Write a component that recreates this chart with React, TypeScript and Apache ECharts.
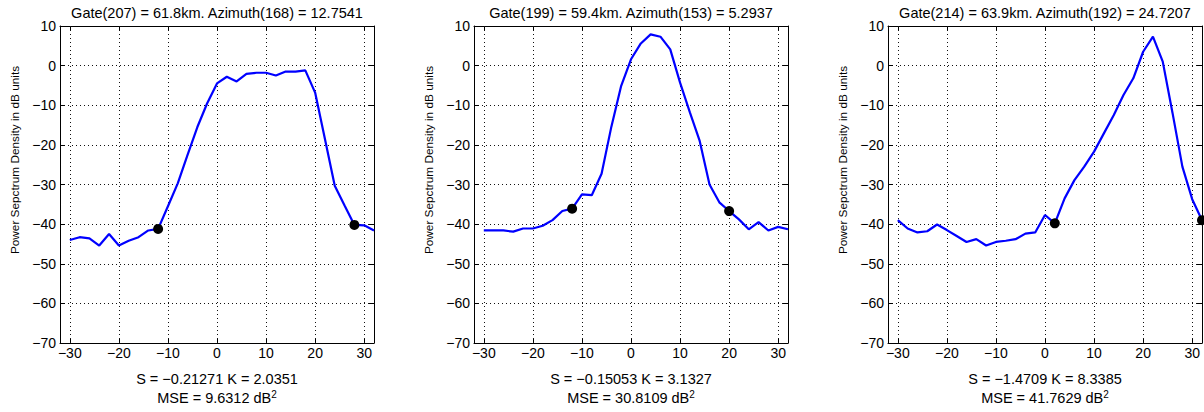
import React, { useEffect, useRef } from 'react';
import * as echarts from 'echarts';

const freqs = [-30, -28, -26, -24, -22, -20, -18, -16, -14, -12, -10, -8, -6, -4, -2, 0, 2, 4, 6, 8, 10, 12, 14, 16, 18, 20, 22, 24, 26, 28, 30, 32];

const psd1 = [-44.0, -43.3, -43.6, -45.4, -42.5, -45.4, -44.2, -43.3, -41.6, -41.2, -35.5, -29.7, -22.5, -15.5, -9.5, -4.5, -2.8, -4.0, -2.1, -1.8, -1.8, -2.5, -1.5, -1.5, -1.2, -6.8, -18.5, -30.3, -35.3, -40.2, -40.3, -41.6];
const psd2 = [-41.6, -41.6, -41.6, -41.9, -41.1, -41.1, -40.4, -39.0, -36.7, -36.1, -32.5, -32.7, -27.3, -15.4, -5.1, 1.6, 5.6, 7.9, 7.3, 4.1, -4.3, -11.8, -19.0, -30.0, -34.5, -36.7, -38.8, -41.3, -39.5, -41.6, -40.7, -41.3];
const psd3 = [-39.0, -41.1, -42.1, -41.8, -40.1, -41.5, -43.0, -44.5, -43.8, -45.4, -44.5, -44.2, -43.8, -42.4, -42.1, -37.7, -39.8, -33.5, -28.9, -25.5, -21.7, -17.1, -12.5, -7.4, -3.2, 3.5, 7.3, 1.0, -12.0, -25.5, -33.7, -39.0];

const markerFreqs1 = [-12, 28];
const markerFreqs2 = [-12, 20];
const markerFreqs3 = [2, 32];

const titles = [
  'Gate(207) = 61.8km. Azimuth(168) = 12.7541',
  'Gate(199) = 59.4km. Azimuth(153) = 5.2937',
  'Gate(214) = 63.9km. Azimuth(192) = 24.7207',
];
const statsLines = [
  'S = \u22120.21271 K = 2.0351',
  'S = \u22120.15053 K = 3.1327',
  'S = \u22121.4709 K = 8.3385',
];
const mseValues = ['9.6312', '30.8109', '41.7629'];

const xTicks = [-30, -20, -10, 0, 10, 20, 30];
const yLabel = 'Power Sepctrum Density in dB units';

const FONT = '"Liberation Sans", Arial, Helvetica, sans-serif';
const GRID_LEFTS = [60, 474, 888];
const GRID_TOP = 26;
const GRID_W = 314;
const GRID_H = 317;

const fmt = (v: number) => (v < 0 ? '\u2212' + Math.abs(v) : String(v));

export default function App() {
  const ref = useRef<HTMLDivElement>(null);
  useEffect(() => {
    if (!ref.current) return;
    const chart = echarts.init(ref.current, undefined, { renderer: 'svg' });
    const panels = [
      { psd: psd1, marks: markerFreqs1 },
      { psd: psd2, marks: markerFreqs2 },
      { psd: psd3, marks: markerFreqs3 },
    ];
    const grids: any[] = [];
    const xAxes: any[] = [];
    const yAxes: any[] = [];
    const series: any[] = [];
    const graphics: any[] = [];
    const dotted = { type: [1, 3], color: '#111', width: 1 };

    panels.forEach((p, i) => {
      grids.push({ left: GRID_LEFTS[i], top: GRID_TOP, width: GRID_W, height: GRID_H, containLabel: false });
      const baseX = {
        type: 'value',
        gridIndex: i,
        min: -32,
        max: 32,
        axisLine: { show: true, onZero: false, lineStyle: { color: '#000', width: 1 } },
        axisTick: { show: true, inside: true, length: 5, customValues: xTicks, lineStyle: { color: '#000' } },
        splitLine: { show: false },
      };
      xAxes.push({
        ...baseX,
        position: 'bottom',
        axisLabel: { show: true, customValues: xTicks, formatter: fmt, color: '#000', fontSize: 14, fontFamily: FONT, margin: 3 },
      });
      xAxes.push({ ...baseX, position: 'top', axisLabel: { show: false } });
      const baseY = {
        type: 'value',
        gridIndex: i,
        min: -70,
        max: 10,
        interval: 10,
        axisLine: { show: true, onZero: false, lineStyle: { color: '#000', width: 1 } },
        axisTick: { show: true, inside: true, length: 5, lineStyle: { color: '#000' } },
      };
      yAxes.push({
        ...baseY,
        position: 'left',
        axisLabel: { show: true, formatter: fmt, color: '#000', fontSize: 14, fontFamily: FONT, margin: 4 },
        splitLine: { show: true, lineStyle: dotted },
      });
      yAxes.push({ ...baseY, position: 'right', axisLabel: { show: false }, splitLine: { show: false } });

      series.push({
        type: 'line',
        xAxisIndex: 2 * i,
        yAxisIndex: 2 * i,
        data: freqs.map((f, k) => [f, p.psd[k]]),
        showSymbol: false,
        symbol: 'none',
        lineStyle: { color: '#0000ff', width: 2.2 },
        z: 3,
        clip: true,
        markLine: {
          silent: true,
          symbol: ['none', 'none'],
          label: { show: false },
          lineStyle: dotted,
          z: 1,
          data: xTicks.map((v) => ({ xAxis: v })),
        },
      });
      series.push({
        type: 'scatter',
        xAxisIndex: 2 * i,
        yAxisIndex: 2 * i,
        data: p.marks.map((m) => [m, p.psd[freqs.indexOf(m)]]),
        symbol: 'circle',
        symbolSize: 10,
        itemStyle: { color: '#000', opacity: 1 },
        z: 4,
        clip: false,
      });

      const cx = GRID_LEFTS[i] + GRID_W / 2;
      graphics.push({
        type: 'text',
        x: GRID_LEFTS[i] - 45,
        y: 160,
        rotation: Math.PI / 2,
        style: { text: yLabel, fill: '#000', fontSize: 11.8, fontFamily: FONT, textAlign: 'center', textVerticalAlign: 'middle' },
      });
      graphics.push({
        type: 'text',
        x: cx,
        y: 13,
        style: { text: titles[i], fill: '#000', fontSize: 14.5, fontFamily: FONT, textAlign: 'center', textVerticalAlign: 'middle' },
      });
      graphics.push({
        type: 'text',
        x: cx,
        y: 379,
        style: { text: statsLines[i], fill: '#000', fontSize: 14.5, fontFamily: FONT, textAlign: 'center', textVerticalAlign: 'middle' },
      });
      graphics.push({
        type: 'text',
        x: cx,
        y: 398,
        style: {
          text: 'MSE = ' + mseValues[i] + ' dB{sup|2}',
          fill: '#000',
          fontSize: 14.5,
          fontFamily: FONT,
          textAlign: 'center',
          textVerticalAlign: 'middle',
          rich: { sup: { fontSize: 10, fontFamily: FONT, fill: '#000', verticalAlign: 'top', lineHeight: 18 } },
        },
      });
    });

    chart.setOption({
      animation: false,
      backgroundColor: '#fff',
      grid: grids,
      xAxis: xAxes,
      yAxis: yAxes,
      series,
      graphic: graphics,
    });
    return () => chart.dispose();
  }, []);
  return <div ref={ref} style={{ position: 'absolute', left: 0, top: 0, width: 1204, height: 412 }} />;
}
